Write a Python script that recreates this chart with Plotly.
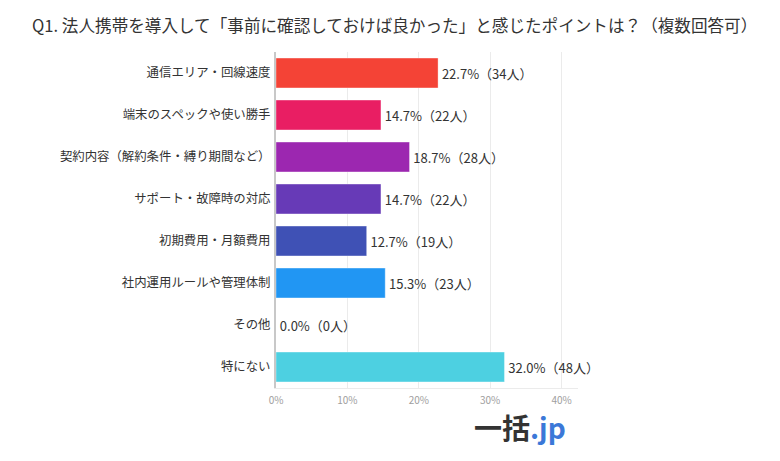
import plotly.graph_objects as go

categories = [
    "通信エリア・回線速度",
    "端末のスペックや使い勝手",
    "契約内容（解約条件・縛り期間など）",
    "サポート・故障時の対応",
    "初期費用・月額費用",
    "社内運用ルールや管理体制",
    "その他",
    "特にない",
]
percents = [22.7, 14.7, 18.7, 14.7, 12.7, 15.3, 0.0, 32.0]
people = [34, 22, 28, 22, 19, 23, 0, 48]
colors = ["#f44336", "#e91e63", "#9c27b0", "#673ab7", "#3f51b5", "#2196f3", "#00bcd4", "#4dd0e1"]
x_ticks = [0, 10, 20, 30, 40]
x_tick_labels = ["0%", "10%", "20%", "30%", "40%"]

FONT = "Noto Sans CJK JP"
W, H = 780, 461
# the page body has an 8px margin, so the figure sits 8px in from the corner
PAGE_OFFSET = 8


def px_x(x):
    return (x - PAGE_OFFSET) / W


def px_y(y):
    return 1 - (y - PAGE_OFFSET) / H


labels = [f"\u200a{p:.1f}%（{n}人）" for p, n in zip(percents, people)]

fig = go.Figure()

fig.add_trace(
    go.Bar(
        x=percents,
        y=categories,
        orientation="h",
        marker=dict(color=colors, line=dict(color="rgba(255,255,255,0.35)", width=1)),
        text=labels,
        textposition="outside",
        textfont=dict(family=FONT, size=13, color="#333333"),
        cliponaxis=False,
        width=0.71,
    )
)

fig.update_layout(
    width=W,
    height=H,
    margin=dict(l=0, r=0, t=0, b=0),
    paper_bgcolor="white",
    plot_bgcolor="white",
    showlegend=False,
    font=dict(family=FONT),
    xaxis=dict(
        domain=[px_x(276), px_x(578)],
        range=[0, 42.3],
        automargin=False,
        tickvals=x_ticks,
        ticktext=x_tick_labels,
        tickfont=dict(size=10, color="#9e9e9e", family=FONT),
        showgrid=True,
        gridcolor="#ebebeb",
        gridwidth=1,
        zeroline=False,
        showline=True,
        linecolor="#ebebeb",
        ticks="",
        ticklabelstandoff=3,
    ),
    yaxis=dict(
        domain=[px_y(388), px_y(52)],
        autorange="reversed",
        automargin=False,
        tickfont=dict(size=12.4, color="#333333", family=FONT),
        showline=True,
        linecolor="#c8c8c8",
        linewidth=2,
        ticks="",
        ticklabelstandoff=1,
    ),
    annotations=[
        dict(
            text="Q1. 法人携帯を導入して「事前に確認しておけば良かった」と感じたポイントは？（複数回答可）",
            x=px_x(394),
            y=px_y(25),
            xref="paper",
            yref="paper",
            xanchor="center",
            yanchor="middle",
            showarrow=False,
            font=dict(size=16.6, color="#333333", family=FONT),
        ),
        dict(
            text="<b>一括</b><span style='color:#3b78d8'><b>.jp</b></span>",
            x=px_x(519.5),
            y=px_y(427),
            xref="paper",
            yref="paper",
            xanchor="center",
            yanchor="middle",
            showarrow=False,
            font=dict(size=28, color="#333333", family=FONT),
        ),
    ],
)

fig.write_html("out.html")
